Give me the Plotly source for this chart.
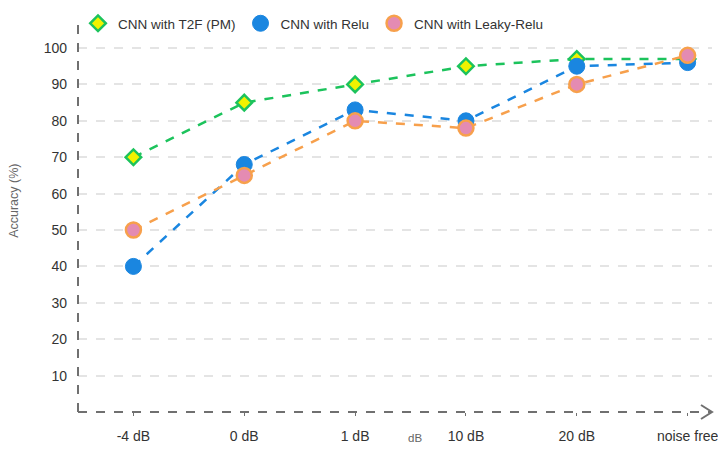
import plotly.graph_objects as go

# categories on the x axis
snr_levels = ["-4 dB", "0 dB", "1 dB", "10 dB", "20 dB", "noise free"]

# accuracy (%) per model
acc_t2f = [70, 85, 90, 95, 97, 97]
acc_relu = [40, 68, 83, 80, 95, 96]
acc_leaky = [50, 65, 80, 78, 90, 98]

y_ticks = [10, 20, 30, 40, 50, 60, 70, 80, 90, 100]

series = [
    ("CNN with T2F (PM)", acc_t2f, "#1cc35c",
     dict(symbol="diamond", size=12, color="#f2f200", line=dict(color="#1cc35c", width=2.5))),
    ("CNN with Relu", acc_relu, "#1a86e0",
     dict(symbol="circle", size=16, color="#1a86e0", line=dict(color="#1a86e0", width=1))),
    ("CNN with Leaky-Relu", acc_leaky, "#f7a04c",
     dict(symbol="circle", size=15, color="#e48bb2", line=dict(color="#f7a04c", width=2.5))),
]

fig = go.Figure()
for name, vals, col, mk in series:
    fig.add_trace(go.Scatter(x=snr_levels, y=vals, name=name, mode="lines+markers",
                             line=dict(color=col, width=2.5, dash="dash"),
                             marker=mk, showlegend=False))
# legend shows only the marker, like the original
for name, vals, col, mk in series:
    fig.add_trace(go.Scatter(x=[None], y=[None], name=name, mode="markers",
                             marker=mk, showlegend=True))

y_max = 111
y_top = 107.7  # where the dashed y axis stops

# dashed axis lines drawn as shapes (plotly axis lines can't be dashed)
axis_col = "#707070"
fig.add_shape(type="line", xref="paper", yref="paper", x0=0, x1=0, y0=0, y1=y_top / y_max,
              line=dict(color=axis_col, width=2, dash="dash"))
fig.add_shape(type="line", xref="paper", yref="paper", x0=0, x1=1, y0=0, y1=0,
              line=dict(color=axis_col, width=2, dash="dash"))
# open arrow head at the end of the x axis
fig.add_shape(type="path", xref="paper", yref="paper",
              xsizemode="pixel", ysizemode="pixel", xanchor=1, yanchor=0,
              path="M -11,7 L 0,0 L -11,-7",
              line=dict(color=axis_col, width=2))

fig.add_annotation(text="Accuracy (%)", xref="paper", yref="y",
                   x=-0.101, y=58, xanchor="center", yanchor="middle",
                   textangle=-90, showarrow=False,
                   font=dict(size=12.5, color="#666666"))
fig.add_annotation(text="dB", xref="paper", yref="paper",
                   x=0.532, y=-0.064, showarrow=False, yanchor="middle",
                   font=dict(size=11.5, color="#666666"))

# page body has an 8px margin, so the figure is sized to fit the window
fig.update_layout(
    width=718, height=436,
    margin=dict(l=70, r=14, t=0, b=32),
    paper_bgcolor="white", plot_bgcolor="white",
    font=dict(family="Liberation Sans, Arial, sans-serif", size=14, color="#333333"),
    showlegend=True,
    legend=dict(orientation="h", x=0.0, xanchor="left", y=1.0, yanchor="top",
                bgcolor="rgba(0,0,0,0)",
                font=dict(size=13.5, color="#333333"), itemwidth=30),
    xaxis=dict(range=[-0.5, 5.22], showline=False, showgrid=False, zeroline=False,
               automargin=False,
               ticks="outside", ticklen=3, tickcolor=axis_col, ticklabelstandoff=8,
               tickfont=dict(size=14, color="#333333")),
    yaxis=dict(range=[0, y_max], tickvals=y_ticks, showline=False, zeroline=False,
               automargin=False,
               showgrid=True, gridcolor="#e4e4e4", griddash="dash", gridwidth=1.5,
               ticks="", ticklabelstandoff=10,
               tickfont=dict(size=14, color="#333333")),
)

fig.write_html("out.html")
